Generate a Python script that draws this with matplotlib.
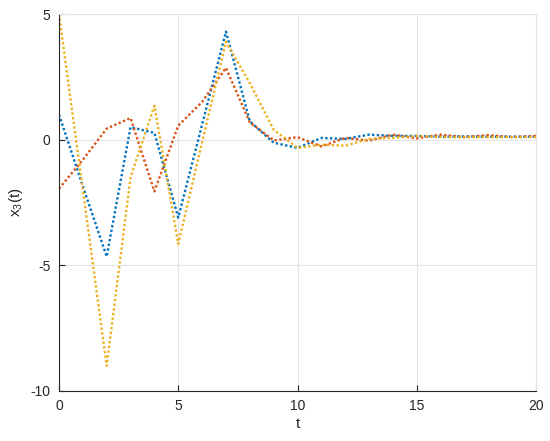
import numpy as np
import matplotlib
matplotlib.use("Agg")
import matplotlib.pyplot as plt

plt.rcParams["font.family"] = ["Liberation Sans", "DejaVu Sans"]
plt.rcParams["mathtext.default"] = "regular"
plt.rcParams["axes.unicode_minus"] = False

t = np.arange(0, 21)
x3_blue = [1.0, -1.85, -4.65, 0.5, 0.27, -3.1, 0.6, 4.3, 0.73, -0.12, -0.33,
           0.07, 0.03, 0.2, 0.15, 0.15, 0.12, 0.13, 0.12, 0.12, 0.12]
x3_red = [-1.95, -0.8, 0.44, 0.86, -2.06, 0.56, 1.5, 2.86, 0.69, -0.03, 0.1,
          -0.27, 0.07, -0.04, 0.2, 0.05, 0.2, 0.1, 0.18, 0.1, 0.15]
x3_yellow = [5.0, -2.0, -9.0, -1.5, 1.35, -4.15, -0.1, 3.9, 2.25, 0.4, -0.33,
             -0.2, -0.24, 0.03, 0.07, 0.15, 0.1, 0.1, 0.1, 0.1, 0.1]

colors = ["#0072BD", "#D95319", "#EDB120"]

fig = plt.figure(figsize=(5.5, 4.41), dpi=100)
ax = fig.add_axes([59 / 550, 50 / 441, 477 / 550, 377 / 441])

for y, c in zip([x3_blue, x3_red, x3_yellow], colors):
    ax.plot(t, y, color=c, linestyle=(0, (1, 1)), linewidth=1.7)

ax.set_xlim(0, 20)
ax.set_ylim(-10, 5)
ax.set_xticks([0, 5, 10, 15, 20])
ax.set_yticks([-10, -5, 0, 5])
ax.grid(True, color="#e3e3e3", linewidth=0.8)
ax.set_axisbelow(True)
ax.tick_params(direction="in", length=4, labelsize=10, color="#262626",
               labelcolor="#262626", top=False, right=False, pad=6)
for side in ["left", "bottom"]:
    ax.spines[side].set_color("#262626")
    ax.spines[side].set_linewidth(0.8)
for side in ["top", "right"]:
    ax.spines[side].set_color("#e3e3e3")
    ax.spines[side].set_linewidth(0.8)

ax.set_xlabel("t", fontsize=11, color="#262626", labelpad=3)
ax.set_ylabel("$x_3(t)$", fontsize=11, color="#262626")

fig.savefig("out.png", dpi=100)
